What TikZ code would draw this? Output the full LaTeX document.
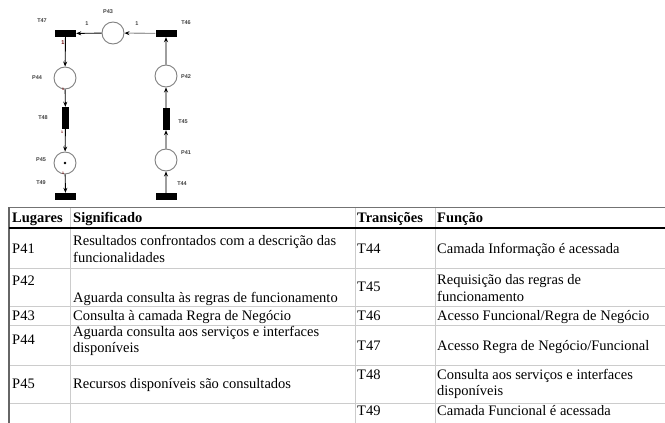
\documentclass[tikz,border=0pt]{standalone}
\usepackage{fontspec}
\setmainfont{Liberation Serif}
\newfontfamily\labelfont{Liberation Sans}
\usetikzlibrary{arrows.meta}
\begin{document}
\begin{tikzpicture}[x=1pt,y=-1pt,
  place/.style={circle, draw=black!50, line width=0.9pt, fill=white,
    minimum size=22pt, inner sep=0pt},
  hbar/.style={rectangle, fill=black, minimum width=21pt, minimum height=7pt, inner sep=0pt},
  vbar/.style={rectangle, fill=black, minimum width=7pt, minimum height=22pt, inner sep=0pt},
  netlabel/.style={font=\labelfont\bfseries\fontsize{5.5}{6}\selectfont, text=black!75, inner sep=0pt},
  weight/.style={font=\labelfont\bfseries\fontsize{3.5}{4}\selectfont, text=red!45!black, inner sep=0pt},
  arc/.style={-{Stealth[length=5pt,width=4pt]}, line width=0.9pt},
  greyarc/.style={-{Stealth[length=5pt,width=4pt,color=black]}, line width=1.1pt, draw=black!38},
  cell/.style={anchor=base west, inner sep=0pt, font=\fontsize{14.5}{17}\selectfont},
  headcell/.style={cell, font=\bfseries\fontsize{14.5}{17}\selectfont},
  grid/.style={draw=black!20, line width=1pt}
]
\useasboundingbox (0,0) rectangle (665,423);

% ---------- Petri net ----------
\node[hbar]  (T47) at (65.5,33.5) {};
\node[place] (P43) at (113,33) {};
\node[hbar]  (T46) at (166,33.5) {};
\node[place] (P44) at (65,78) {};
\node[vbar]  (T48) at (65.5,118) {};
\node[place] (P45) at (65,163) {};
\node[hbar]  (T49) at (65.5,196.5) {};
\node[place] (P42) at (166,76) {};
\node[vbar]  (T45) at (166,119) {};
\node[place] (P41) at (166,160) {};
\node[hbar]  (T44) at (166,196.5) {};
\fill (P45.center) circle (1.3pt);

% arcs of the left branch
\draw[arc] (P43) -- (T47);
\draw[arc] (T47) -- (P44);
\draw[arc] (P44) -- (T48);
\draw[arc] (T48) -- (P45);
\draw[arc] (P45) -- (T49);
% arcs of the right branch
\draw[greyarc] (T44) -- (P41);
\draw[greyarc] (P41) -- (T45);
\draw[greyarc] (T45) -- (P42);
\draw[greyarc] (P42) -- (T46);
\draw[greyarc] (T46) -- (P43);

% labels
\node[netlabel] (lP43) at (108,12) {P43};
\node[netlabel] (lT47) at (42,21) {T47};
\node[netlabel] (lT46) at (186,23) {T46};
\node[netlabel] (w1) at (87,24) {1};
\node[netlabel] (w2) at (137,24) {1};
\node[netlabel, text=red!40!black] (w3) at (63,43) {1};
\node[netlabel] (lP44) at (37,78) {P44};
\node[netlabel] (lP42) at (186,77) {P42};
\node[netlabel] (lT48) at (43,118) {T48};
\node[netlabel] (lT45) at (183,122) {T45};
\node[netlabel] (lP45) at (41,160) {P45};
\node[netlabel] (lP41) at (186,153) {P41};
\node[netlabel] (lT49) at (41,183) {T49};
\node[netlabel] (lT44) at (182,184) {T44};
\node[weight] (w4) at (63,89.5) {1};
\node[weight] (w5) at (62,132) {1};
\node[weight] (w6) at (63,173.5) {1};

% ---------- table ----------
\foreach \yy in {268,306,325,365,403} \draw[grid] (9,\yy) -- (665,\yy);
\foreach \xx in {70,355,435} \draw[grid] (\xx,207.5) -- (\xx,423);
\draw[draw=black!55, line width=1.2pt] (9,207.5) -- (665,207.5);
\draw[draw=black!60, line width=1.6pt] (9,207) -- (9,423);
\draw[black, line width=1.6pt] (9,228) -- (665,228);

\node[headcell] (h1) at (12,222.5) {Lugares};
\node[headcell] (h2) at (73,222.5) {Significado};
\node[headcell] (h3) at (357,222.5) {Transições};
\node[headcell] (h4) at (437,222.5) {Função};

\node[cell] (p41) at (12,253.5) {P41};
\node[cell] (s41a) at (73,245) {Resultados confrontados com a descrição das};
\node[cell] (s41b) at (73,262.5) {funcionalidades};
\node[cell] (t44) at (357,253.5) {T44};
\node[cell] (f44) at (437,253.5) {Camada Informação é acessada};

\node[cell] (p42) at (12,285.5) {P42};
\node[cell] (s42) at (73,302) {Aguarda consulta às regras de funcionamento};
\node[cell] (t45) at (357,291.5) {T45};
\node[cell] (f45a) at (437,284) {Requisição das regras de};
\node[cell] (f45b) at (437,301.5) {funcionamento};

\node[cell] (p43) at (12,320) {P43};
\node[cell] (s43) at (73,320) {Consulta à camada Regra de Negócio};
\node[cell] (t46) at (357,320) {T46};
\node[cell] (f46) at (437,320) {Acesso Funcional/Regra de Negócio};

\node[cell] (p44) at (12,344) {P44};
\node[cell] (s44a) at (73,336) {Aguarda consulta aos serviços e interfaces};
\node[cell] (s44b) at (73,352.5) {disponíveis};
\node[cell] (t47) at (357,350.5) {T47};
\node[cell] (f47) at (437,350.5) {Acesso Regra de Negócio/Funcional};

\node[cell] (p45) at (12,388) {P45};
\node[cell] (s45) at (73,388) {Recursos disponíveis são consultados};
\node[cell] (t48) at (357,379.5) {T48};
\node[cell] (f48a) at (437,379.5) {Consulta aos serviços e interfaces};
\node[cell] (f48b) at (437,395.5) {disponíveis};

\node[cell] (t49) at (357,415.5) {T49};
\node[cell] (f49) at (437,415.5) {Camada Funcional é acessada};
\end{tikzpicture}
\end{document}
